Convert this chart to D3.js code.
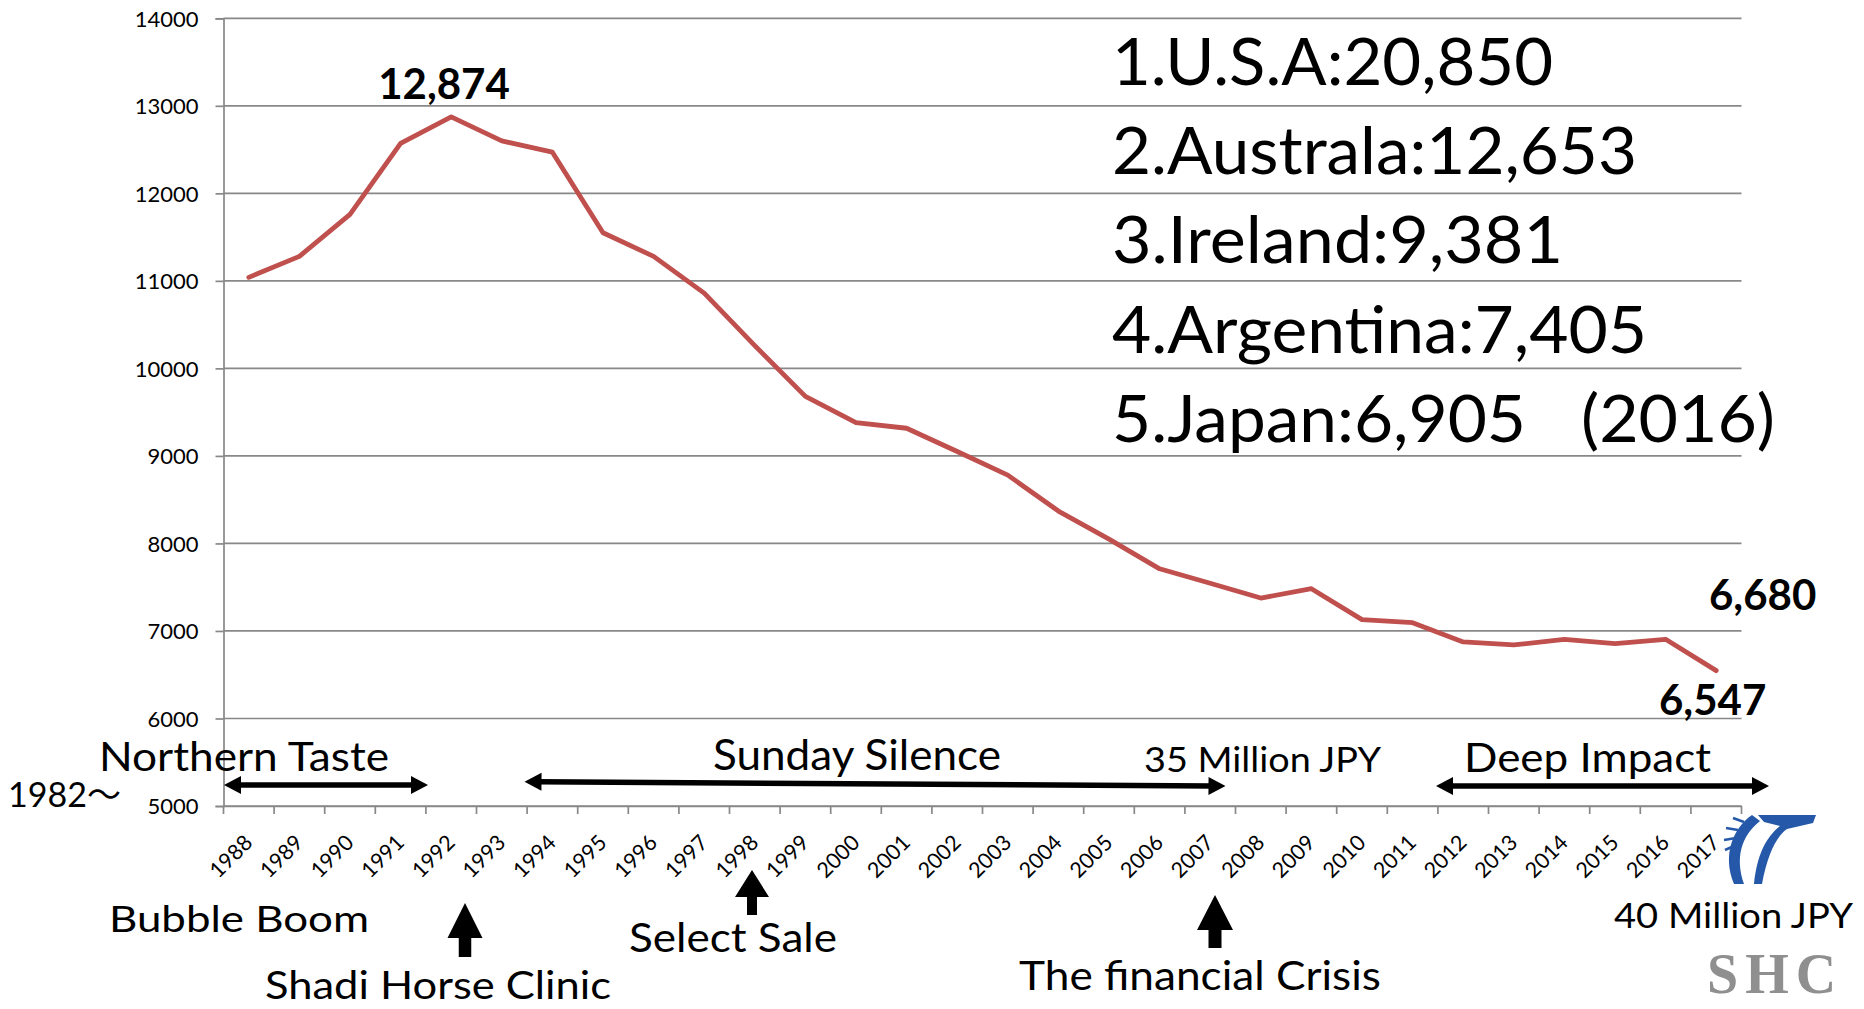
<!DOCTYPE html>
<html>
<head>
<meta charset="utf-8">
<script src="https://cdn.jsdelivr.net/npm/d3@7"></script>
<style>
  body { margin: 0; background: #fff; }
  svg text { font-family: Lato, "Noto Sans", sans-serif; fill: #000; }
</style>
</head>
<body>
<div id="chart"></div>
<script>
// foal crop in Japan, 1988-2017
const years = ["1988","1989","1990","1991","1992","1993","1994","1995","1996","1997",
  "1998","1999","2000","2001","2002","2003","2004","2005","2006","2007",
  "2008","2009","2010","2011","2012","2013","2014","2015","2016","2017"];
const foals = [11040, 11280, 11760, 12570, 12874, 12600, 12470, 11550, 11280, 10860,
  10260, 9680, 9380, 9316, 9050, 8780, 8370, 8050, 7710, 7545,
  7376, 7483, 7130, 7095, 6875, 6840, 6905, 6855, 6905, 6547];
const yTicks = [5000, 6000, 7000, 8000, 9000, 10000, 11000, 12000, 13000, 14000];
const ranking = ["1.U.S.A:20,850", "2.Australa:12,653", "3.Ireland:9,381", "4.Argentina:7,405", "5.Japan:6,905"];

const W = 1864, H = 1009;
const plotL = 223.5, plotR = 1741.5, plotT = 18.3, plotB = 806;

const svg = d3.select("#chart").append("svg")
  .attr("width", W)
  .attr("height", H);

const x = d3.scaleBand().domain(years).range([plotL, plotR]);
const y = d3.scaleLinear().domain([5000, 14000]).range([plotB, plotT]);
const cx = d => x(d) + x.bandwidth() / 2;

// gridlines
svg.append("g").selectAll("line")
  .data(yTicks)
  .enter().append("line")
  .attr("x1", plotL).attr("x2", plotR)
  .attr("y1", d => y(d)).attr("y2", d => y(d))
  .attr("stroke", "#888")
  .attr("stroke-width", 1.7);

// y axis
const yAxis = d3.axisLeft(y).tickValues(yTicks).tickSize(8).tickPadding(17).tickFormat(d => d);
const gy = svg.append("g")
  .attr("transform", "translate(" + plotL + ",0)")
  .call(yAxis);
gy.select(".domain").attr("stroke", "#888").attr("stroke-width", 1.7);
gy.selectAll(".tick line").attr("stroke", "#888").attr("stroke-width", 1.7);
gy.selectAll(".tick text")
  .style("font-family", "Lato")
  .style("font-size", "22px")
  .attr("dy", "0.36em")
  .attr("fill", "#000");

// x axis, ticks sit between categories
const xAxis = d3.axisBottom(x).tickSize(0).tickFormat("");
const gx = svg.append("g")
  .attr("transform", "translate(0," + plotB + ")")
  .call(xAxis);
gx.select(".domain").attr("stroke", "#888").attr("stroke-width", 1.7);
gx.selectAll(".tick").remove();

svg.append("g").selectAll("line")
  .data(years.map(d => x(d)).concat([x.range()[1]]))
  .enter().append("line")
  .attr("x1", d => d).attr("x2", d => d)
  .attr("y1", plotB).attr("y2", plotB + 8)
  .attr("stroke", "#888")
  .attr("stroke-width", 1.7);

svg.append("g").selectAll("text")
  .data(years)
  .enter().append("text")
  .attr("transform", d => "translate(" + (cx(d) + 5) + "," + (plotB + 38) + ") rotate(-45)")
  .attr("text-anchor", "end")
  .style("font-size", "21.5px")
  .text(d => d);

// the line
const line = d3.line()
  .x((d, i) => cx(years[i]))
  .y(d => y(d));

svg.append("path")
  .datum(foals)
  .attr("d", line)
  .attr("fill", "none")
  .attr("stroke", "#C0504D")
  .attr("stroke-width", 4.8)
  .attr("stroke-linejoin", "round")
  .attr("stroke-linecap", "round");

function label(txt, px, py, size, opts) {
  opts = opts || {};
  const t = svg.append("text")
    .attr("x", px).attr("y", py)
    .attr("text-anchor", opts.anchor || "start")
    .style("font-size", size + "px")
    .style("font-weight", opts.bold ? "bold" : "normal")
    .text(txt);
  if (opts.len) t.attr("textLength", opts.len).attr("lengthAdjust", "spacingAndGlyphs");
  return t;
}

// value labels
label("12,874", 444, 99, 42, { bold: true, anchor: "middle" });
label("6,680", 1709, 610, 42, { bold: true });
label("6,547", 1659, 715, 42, { bold: true });

// ranking box
const rankLen = [441, 525, 451, 535, 414];
ranking.forEach((t, i) => label(t, 1112, 85 + i * 89.2, 65, { len: rankLen[i] }));
label("(2016)", 1581, 85 + 4 * 89.2, 65, { len: 194 });

// period labels
label("Northern Taste", 99, 770.5, 41, { len: 290 });
label("1982～", 8, 807, 34).style("font-family", "Lato, 'Noto Sans CJK JP'");
label("Sunday Silence", 713, 770, 42, { len: 288 });
label("35 Million JPY", 1144, 772, 35, { len: 237 });
label("Deep Impact", 1464, 772, 40, { len: 247 });
label("Bubble Boom", 109, 932, 37, { len: 260 });
label("Shadi Horse Clinic", 265, 999, 38, { len: 346 });
label("Select Sale", 629, 952, 40, { len: 208 });
label("The financial Crisis", 1019, 990, 40, { len: 362 });
label("40 Million JPY", 1614, 928, 35, { len: 239 });

// double headed arrows
function doubleArrow(x1, y1, x2, y2) {
  const g = svg.append("g");
  const a = Math.atan2(y2 - y1, x2 - x1);
  const hl = 17, hw = 9;
  g.append("line")
    .attr("x1", x1 + hl * 0.8 * Math.cos(a)).attr("y1", y1 + hl * 0.8 * Math.sin(a))
    .attr("x2", x2 - hl * 0.8 * Math.cos(a)).attr("y2", y2 - hl * 0.8 * Math.sin(a))
    .attr("stroke", "#000").attr("stroke-width", 5.5);
  const head = (px, py, dir) => {
    const bx = px - dir * hl * Math.cos(a), by = py - dir * hl * Math.sin(a);
    const nx = -Math.sin(a) * hw, ny = Math.cos(a) * hw;
    return [[px, py], [bx + nx, by + ny], [bx - nx, by - ny]];
  };
  [head(x2, y2, 1), head(x1, y1, -1)].forEach(p => {
    g.append("path").attr("d", "M" + p.join("L") + "Z").attr("fill", "#000");
  });
}
doubleArrow(224, 785, 428, 785);
doubleArrow(524.5, 781.7, 1225.5, 786);
doubleArrow(1436, 786, 1769, 786);

// block up arrows
function upArrow(ax, tip, headLen, len, headW, shaftW) {
  const pts = [
    [ax, tip], [ax + headW / 2, tip + headLen], [ax + shaftW / 2, tip + headLen],
    [ax + shaftW / 2, tip + len], [ax - shaftW / 2, tip + len],
    [ax - shaftW / 2, tip + headLen], [ax - headW / 2, tip + headLen]
  ];
  svg.append("path").attr("d", "M" + pts.join("L") + "Z").attr("fill", "#000");
}
upArrow(465, 903, 35, 54, 35, 12.5);
upArrow(752, 870, 27, 45, 34, 10);
upArrow(1215, 895, 35, 53, 36, 13);

// logo
const logo = svg.append("g").attr("fill", "#2558a8");
logo.append("path")
  .attr("d", "M1752,815 C1733,828 1722,855 1734,884 L1744,884 C1735,858 1741,836 1760,821 Z");
logo.append("path")
  .attr("d", "M1758,815 L1816,815 L1813,823 L1787,829 C1777,836 1768,852 1762,884 L1754,884 C1757,856 1765,838 1780,826 L1764,822 Z");
[[1738, 830, 1726, 828], [1736, 838, 1724, 840], [1734, 846, 1725, 850], [1744, 822, 1733, 818]].forEach(s => {
  logo.append("line").attr("x1", s[0]).attr("y1", s[1]).attr("x2", s[2]).attr("y2", s[3])
    .attr("stroke", "#2558a8").attr("stroke-width", 2.5);
});

svg.append("text")
  .attr("x", 1707).attr("y", 993)
  .style("font-family", "'Liberation Serif', serif")
  .style("font-size", "56px")
  .style("font-weight", "bold")
  .style("letter-spacing", "7px")
  .style("fill", "#8f8f8f")
  .text("SHC");
</script>
</body>
</html>
